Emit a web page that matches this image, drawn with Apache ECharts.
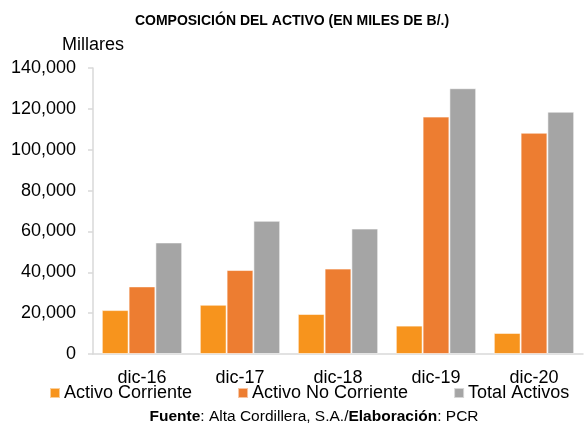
<!DOCTYPE html>
<html>
<head>
<meta charset="utf-8">
<script src="https://cdn.jsdelivr.net/npm/echarts@6/dist/echarts.min.js"></script>
<style>
  html, body { margin: 0; padding: 0; background: #fff; }
  #chart { width: 584px; height: 424px; }
</style>
</head>
<body>
<div id="chart"></div>
<script>
  // Data (miles de B/.)
  const categories = ['dic-16', 'dic-17', 'dic-18', 'dic-19', 'dic-20']
  const activoCorriente = [21500, 24100, 19600, 13900, 10300]
  const activoNoCorriente = [33100, 41100, 41800, 116200, 108300]
  const totalActivos = [54600, 65200, 61400, 130100, 118600]

  const font = '"Liberation Sans", Arial, sans-serif'
  const barBorder = { borderColor: 'rgba(255,255,255,0.55)', borderWidth: 1 }

  const chart = echarts.init(document.getElementById('chart'))
  chart.setOption({
    backgroundColor: '#fff',
    animation: false,
    textStyle: { fontFamily: font },
    title: [
      {
        text: 'COMPOSICIÓN DEL ACTIVO (EN MILES DE B/.)',
        left: 'center', top: 14, padding: 0,
        textStyle: { fontFamily: font, fontSize: 14, fontWeight: 'bold', color: '#000' }
      },
      {
        text: '{b|Fuente}: Alta Cordillera, S.A./{b|Elaboración}: PCR',
        left: 314, top: 409, textAlign: 'center', padding: 0,
        textStyle: {
          fontFamily: font, fontSize: 15.5, fontWeight: 'normal', color: '#000',
          rich: { b: { fontFamily: font, fontSize: 15.5, fontWeight: 'bold', color: '#000' } }
        }
      }
    ],
    legend: {
      top: 384, left: 49, padding: 0,
      itemWidth: 10, itemHeight: 10, itemGap: 45,
      icon: 'rect',
      textStyle: { fontFamily: font, fontSize: 18, color: '#000', padding: [0, 0, 0, -1] },
      data: ['Activo Corriente', 'Activo No Corriente', 'Total Activos']
    },
    grid: { left: 93, right: 1, top: 68, bottom: 70, containLabel: false },
    xAxis: {
      type: 'category',
      data: categories,
      axisLine: { show: true, lineStyle: { color: '#d9d9d9', width: 1.5 } },
      axisTick: { show: false },
      axisLabel: { fontFamily: font, fontSize: 18, color: '#000', margin: 15 }
    },
    yAxis: {
      type: 'value',
      name: 'Millares',
      nameLocation: 'end',
      nameGap: 14,
      nameTextStyle: { fontFamily: font, fontSize: 18, color: '#000', align: 'center' },
      min: 0, max: 140000, interval: 20000,
      axisLine: { show: true, lineStyle: { color: '#d9d9d9', width: 1.5 } },
      axisTick: { show: true, length: 5, lineStyle: { color: '#d9d9d9', width: 1.5 } },
      splitLine: { show: false },
      axisLabel: {
        fontFamily: font, fontSize: 18, color: '#000', margin: 17,
        formatter: (v) => v.toLocaleString('en-US')
      }
    },
    series: [
      { name: 'Activo Corriente', type: 'bar', data: activoCorriente, barGap: '0%', barCategoryGap: '18%', itemStyle: { color: '#F7941D', ...barBorder } },
      { name: 'Activo No Corriente', type: 'bar', data: activoNoCorriente, itemStyle: { color: '#ED7D31', ...barBorder } },
      { name: 'Total Activos', type: 'bar', data: totalActivos, itemStyle: { color: '#A5A5A5', ...barBorder } }
    ]
  })
</script>
</body>
</html>
